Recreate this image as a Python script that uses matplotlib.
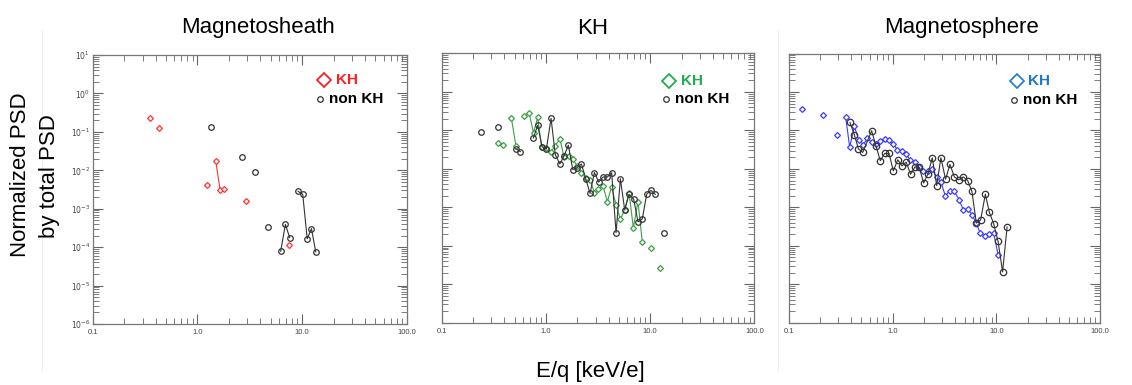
import numpy as np
import matplotlib
matplotlib.use("Agg")
import matplotlib.pyplot as plt
from matplotlib.ticker import LogLocator, FixedLocator, FixedFormatter, NullFormatter
from matplotlib.lines import Line2D

plt.rcParams['font.family'] = ['Liberation Sans', 'DejaVu Sans']
nan = np.nan

# energy [keV/e] and normalized PSD, nan = gap between connected bins
sheath_kh_e = [0.353, nan, 0.43, nan, 1.23, nan, 1.50, 1.65, 1.81, nan, 2.92, nan, 7.57]
sheath_kh_psd = [0.234, nan, 0.129, nan, 0.0041, nan, 0.017, 0.0030, 0.0032, nan, 0.00155, nan, 1.17e-4]
sheath_non_e = [1.35, nan, 2.65, nan, 3.56, nan, 4.70, nan, 6.25, 6.93, 7.62, nan,
                9.16, 10.15, 11.2, 12.3, 13.5]
sheath_non_psd = [0.134, nan, 0.0227, nan, 0.0092, nan, 3.35e-4, nan, 7.8e-5, 3.9e-4, 1.77e-4, nan,
                  2.84e-3, 2.37e-3, 1.66e-4, 3.03e-4, 7.6e-5]

kh_kh_e = [0.35, 0.387, nan, 0.466, 0.516, nan, 0.62, 0.689, 0.76, 0.834, 0.91, 1.01, 1.11, 1.22,
           1.36, 1.49, 1.65, 1.81, 1.99, 2.19, 2.41, 2.65, 2.92, 3.19, 3.53, 3.88, 4.27, 4.71,
           5.18, 5.70, 6.27, 6.90, 7.64, 8.41, nan, 10.1, nan, 12.3]
kh_kh_psd = [0.0467, 0.042, nan, 0.208, 0.038, nan, 0.23, 0.28, 0.087, 0.217, 0.036, 0.034, 0.0267,
             0.039, 0.060, 0.0206, 0.0214, 0.0175, 0.012, 0.0079, 0.0057, 0.0051, 0.0024, 0.003,
             0.0036, 0.0014, 0.0034, 0.00114, 0.00049, 0.00085, 0.0024, 2.94e-4, 0.0014, 1.25e-4,
             nan, 8.5e-5, nan, 2.7e-5]
kh_non_e = [0.238, nan, 0.35, nan, 0.513, 0.569, nan, 0.757, 0.834, 0.918, 1.01, 1.12, 1.23, 1.36,
            1.49, 1.64, 1.81, 1.99, 2.19, 2.41, 2.65, 2.92, 3.21, 3.53, 3.88, 4.27, 4.71, 5.18,
            5.70, 6.27, 6.95, 7.64, 8.41, 9.27, 10.2, 11.2, nan, 13.7]
kh_non_psd = [0.088, nan, 0.12, nan, 0.033, 0.028, nan, 0.063, 0.134, 0.0375, 0.0326, 0.204, 0.0232,
              0.0133, 0.0214, 0.041, 0.0095, 0.0107, 0.0133, 0.0055, 0.0023, 0.008, 0.0045, 0.0061,
              0.0061, 0.0079, 2.18e-4, 0.0055, 8.5e-4, 2.16e-3, 1.63e-3, 4.2e-4, 5.0e-4, 2.2e-3,
              2.74e-3, 2.16e-3, nan, 2.18e-4]

sphere_kh_e = [0.133, nan, 0.214, nan, 0.29, nan, 0.352, 0.385, 0.427, 0.47, 0.521, 0.57, 0.627,
               0.69, 0.76, 0.837, 0.922, 1.015, 1.11, 1.22, 1.35, 1.48, 1.63, 1.79, 1.98, 2.18,
               2.40, 2.66, 2.92, 3.22, 3.57, 3.94, 4.37, 4.81, 5.29, 5.82, 6.41, 7.01, 7.78, 8.56,
               9.42, 10.4]
sphere_kh_psd = [0.354, nan, 0.257, nan, 0.0743, nan, 0.223, 0.0369, 0.130, 0.0574, 0.0425, 0.062,
                 0.0499, 0.0443, 0.054, 0.0597, 0.0574, 0.0443, 0.0315, 0.0297, 0.0248, 0.0166,
                 0.015, 0.0111, 0.0089, 0.0086, 0.0097, 0.0061, 0.0046, 0.002, 0.0027, 0.0026,
                 0.0016, 8.6e-4, 9.1e-4, 6.5e-4, 3.9e-4, 2.1e-4, 1.8e-4, 2.0e-4, 2.2e-4, 5.8e-5]
sphere_non_e = [0.387, 0.427, 0.467, 0.514, 0.627, 0.69, 0.76, 0.837, 0.922, 1.015, 1.12, 1.23,
                1.35, 1.49, 1.64, 1.81, 1.99, 2.19, 2.41, 2.66, 2.92, 3.24, 3.57, 3.94, 4.33,
                4.81, 5.29, 5.82, 6.41, 7.06, 7.84, 8.56, 9.42, 10.4, 11.5, 12.7]
sphere_non_psd = [0.162, 0.0774, 0.0334, 0.0268, 0.0984, 0.040, 0.0163, 0.0252, 0.0252, 0.0089,
                  0.0173, 0.012, 0.015, 0.0073, 0.0113, 0.0109, 0.0043, 0.0074, 0.0195, 0.0037,
                  0.0195, 0.0054, 0.0131, 0.0062, 0.0052, 0.0062, 0.005, 0.0026, 3.9e-4, 4.7e-4,
                  2.2e-3, 7.5e-4, 3.8e-4, 1.3e-4, 2.1e-5, 3.1e-4]

titles = ['Magnetosheath', 'KH', 'Magnetosphere']
x_ticks = [0.1, 1.0, 10.0, 100.0]
x_labels = ['0.1', '1.0', '10.0', '100.0']
y_ticks = [1e-6, 1e-5, 1e-4, 1e-3, 1e-2, 1e-1, 1e0, 1e1]
y_labels = ['$10^{-6}$', '$10^{-5}$', '$10^{-4}$', '$10^{-3}$', '$10^{-2}$', '$10^{-1}$',
            '$10^{0}$', '$10^{1}$']

panels = [
    (sheath_kh_e, sheath_kh_psd, sheath_non_e, sheath_non_psd, '#ff3030', '#ff2020', '#ff2020', 4.0),
    (kh_kh_e, kh_kh_psd, kh_non_e, kh_non_psd, '#3aa043', '#1fae4a', '#1fae4a', 4.0),
    (sphere_kh_e, sphere_kh_psd, sphere_non_e, sphere_non_psd, '#3b3bff', '#1e78c8', '#2a80d0', 4.6),
]

fig = plt.figure(figsize=(11.32, 3.85), dpi=100)
ax_rects = [
    [0.0819, 0.1584, 0.2774, 0.6987],
    [0.3902, 0.1618, 0.2762, 0.6997],
    [0.6970, 0.1618, 0.2747, 0.6990],
]
leg_pos = [
    (0.737, 0.907, 0.775, 0.724, 0.836, 0.752),
    (0.728, 0.898, 0.766, 0.717, 0.829, 0.747),
    (0.732, 0.898, 0.770, 0.723, 0.829, 0.754),
]

for i, (kx, ky, nx, ny, col, tcol, lcol, ms) in enumerate(panels):
    ax = fig.add_axes(ax_rects[i])
    ax.set_xscale('log')
    ax.set_yscale('log')
    ax.set_xlim(0.1, 100)
    ax.set_ylim(1e-6, 1e1)

    ax.plot(kx, ky, color=col, lw=0.8, marker='D', ms=3.0, mfc='white', mec=col, mew=0.9)
    ax.plot(nx, ny, color='#333333', lw=0.8, marker='o', ms=ms, mfc='none', mec='#333333', mew=0.9)

    ax.xaxis.set_major_locator(FixedLocator(x_ticks))
    ax.xaxis.set_major_formatter(FixedFormatter(x_labels))
    ax.xaxis.set_minor_locator(LogLocator(base=10, subs=np.arange(2, 10), numticks=100))
    ax.xaxis.set_minor_formatter(NullFormatter())
    ax.yaxis.set_major_locator(FixedLocator(y_ticks))
    ax.yaxis.set_minor_locator(LogLocator(base=10, subs=np.arange(2, 10), numticks=100))
    ax.yaxis.set_minor_formatter(NullFormatter())
    if i == 0:
        ax.yaxis.set_major_formatter(FixedFormatter(y_labels))
    else:
        ax.yaxis.set_major_formatter(NullFormatter())

    ax.tick_params(which='both', direction='in', top=True, right=True, color='#666666',
                   labelsize=5.5, labelcolor='#444444')
    ax.tick_params(axis='x', which='major', pad=3.5)
    ax.tick_params(axis='y', which='major', pad=2)
    ax.tick_params(which='major', length=7, width=0.8)
    ax.tick_params(which='minor', length=4, width=0.6)
    for s in ax.spines.values():
        s.set_color('#777777')
        s.set_linewidth(0.9)

    # in-plot legend
    dx, dy, tx, cx, cy, ntx = leg_pos[i]
    ax.plot([dx], [dy], transform=ax.transAxes, marker='D', ms=7, mfc='white', mec=lcol, mew=1.3,
            ls='none', clip_on=False)
    ax.text(tx, dy, 'KH', transform=ax.transAxes, color=tcol, fontsize=11, fontweight='bold',
            va='center', ha='left')
    ax.plot([cx], [cy], transform=ax.transAxes, marker='o', ms=4, mfc='none', mec='#333333', mew=0.9,
            ls='none', clip_on=False)
    ax.text(ntx, cy, 'non KH', transform=ax.transAxes, color='black', fontsize=11, fontweight='bold',
            va='center', ha='left')

# titles and shared labels
title_x = [258 / 1132, 593 / 1132, 961 / 1132]
for t, x in zip(titles, title_x):
    fig.text(x, 1 - 28 / 385, t, ha='center', va='center', fontsize=16)
fig.text(21 / 1132, 1 - 175 / 385, 'Normalized PSD', rotation=90, ha='center', va='center', fontsize=16)
fig.text(50 / 1132, 1 - 176 / 385, 'by total PSD', rotation=90, ha='center', va='center', fontsize=16)
fig.text(590 / 1132, 1 - 372 / 385, 'E/q [keV/e]', ha='center', va='center', fontsize=16)

# faint panel borders of the original composite
for xb in [42, 778]:
    fig.add_artist(Line2D([xb / 1132, xb / 1132], [0.04, 1 - 30 / 385],
                          transform=fig.transFigure, color='#eeeeee', lw=0.8))

fig.savefig('out.png', dpi=100)
